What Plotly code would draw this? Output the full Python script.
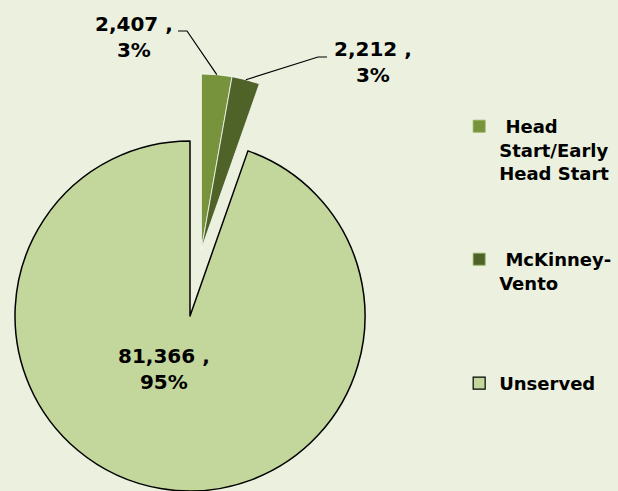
import math
import plotly.graph_objects as go

# ---------------- data ----------------
categories = ["Head Start/Early Head Start", "McKinney-Vento", "Unserved"]
legend_labels = ["\u00a0Head<br>Start/Early<br>Head Start", "\u00a0McKinney-<br>Vento", "Unserved"]
values = [2407, 2212, 81366]

# ---------------- style ----------------
colors = ["#77933C", "#4F6228", "#C3D69B"]
BG = "#EBF0DF"
TRANSPARENT = "rgba(0,0,0,0)"
FONT = "DejaVu Sans"
W, H = 618, 491
CX, CY, R = 190, 316, 175          # pie centre / radius in px
EXPLODE = 68                       # px the small slices are pulled out
LEGEND_TOPS = [108, 241, 365]      # px, top of each legend block

total = sum(values)
pcts = [round(v / total * 100) for v in values]
label_texts = [f"{v:,} ,<br>{p}%" for v, p in zip(values, pcts)]

# slice angles (clockwise from 12 o'clock)
starts, ends, cum = [], [], 0
for v in values:
    starts.append(cum / total * 360)
    cum += v
    ends.append(cum / total * 360)
mids = [(s + e) / 2 for s, e in zip(starts, ends)]
group_mid = math.radians((starts[0] + ends[1]) / 2)
ex_cx = CX + EXPLODE * math.sin(group_mid)
ex_cy = CY - EXPLODE * math.cos(group_mid)


def px(x):
    return x / W


def py(y):
    return 1 - y / H


def dom(cx, cy, r):
    return dict(x=[max(0, px(cx - r)), min(1, px(cx + r))],
                y=[max(0.0, py(cy + r)), min(1, py(cy - r))])


fig = go.Figure()

legend_names = ["legend", "legend2", "legend3"]

# legend-only traces (tiny, hidden below the pie)
for i, lab in enumerate(legend_labels):
    fig.add_trace(go.Pie(
        labels=[lab], values=[values[i]], sort=False,
        marker=dict(colors=[colors[i]],
                    line=dict(color="#000000" if i == 2 else "#8FAE5A", width=1.2 if i == 2 else 0.8)),
        domain=dict(x=[0.30, 0.3005], y=[0.30, 0.3005]),
        textinfo="none", hoverinfo="skip", legend=legend_names[i], showlegend=True,
    ))

# main pie: unserved slice
fig.add_trace(go.Pie(
    labels=categories, values=values, sort=False, direction="clockwise", rotation=0,
    marker=dict(colors=[TRANSPARENT, TRANSPARENT, colors[2]],
                line=dict(color=[TRANSPARENT, TRANSPARENT, "#000000"], width=[0, 0, 1.5])),
    domain=dom(CX, CY, R), textinfo="none", hoverinfo="label+value+percent", showlegend=False,
))

# exploded small slices
fig.add_trace(go.Pie(
    labels=categories, values=values, sort=False, direction="clockwise", rotation=0,
    marker=dict(colors=[colors[0], colors[1], TRANSPARENT],
                line=dict(color=["rgba(255,255,255,0.75)", "rgba(255,255,255,0.75)", TRANSPARENT],
                          width=[1, 1, 0])),
    domain=dom(ex_cx, ex_cy, R), textinfo="none", hoverinfo="label+value+percent", showlegend=False,
))

# data labels
label_pos = [(134, 37), (373, 62), (164, 369)]
for t, (lx, ly) in zip(label_texts, label_pos):
    fig.add_annotation(text=t, x=px(lx), y=py(ly), xref="paper", yref="paper",
                       xanchor="center", yanchor="middle", showarrow=False, align="center",
                       font=dict(family=FONT, size=20, color="#000000", weight="bold"))

# leader lines from slice edges to labels
elbows = [((187, 31), (178, 31)), ((318, 57), (327, 57))]
for i in range(2):
    a = math.radians(mids[i])
    ex = ex_cx + R * math.sin(a)
    ey = ex_cy - R * math.cos(a)
    (x1, y1), (x2, y2) = elbows[i]
    fig.add_shape(type="path", xref="paper", yref="paper",
                  path=f"M {px(ex)},{py(ey)} L {px(x1)},{py(y1)} L {px(x2)},{py(y2)}",
                  line=dict(color="#000000", width=1.2))

legend_style = dict(x=0.743, xanchor="left", yanchor="top",
                    font=dict(family=FONT, size=18, color="#000000", weight="bold"),
                    bgcolor="rgba(0,0,0,0)", valign="top")

fig.update_layout(
    width=W, height=H, autosize=False,
    margin=dict(l=0, r=0, t=0, b=0),
    paper_bgcolor=BG, plot_bgcolor=BG,
    legend=dict(y=py(LEGEND_TOPS[0]), **legend_style),
    legend2=dict(y=py(LEGEND_TOPS[1]), **legend_style),
    legend3=dict(y=py(LEGEND_TOPS[2]), **legend_style),
)

fig.write_html("out.html", config={"displayModeBar": False},
               post_script="document.body.style.margin='0px';document.body.style.overflow='hidden';")
